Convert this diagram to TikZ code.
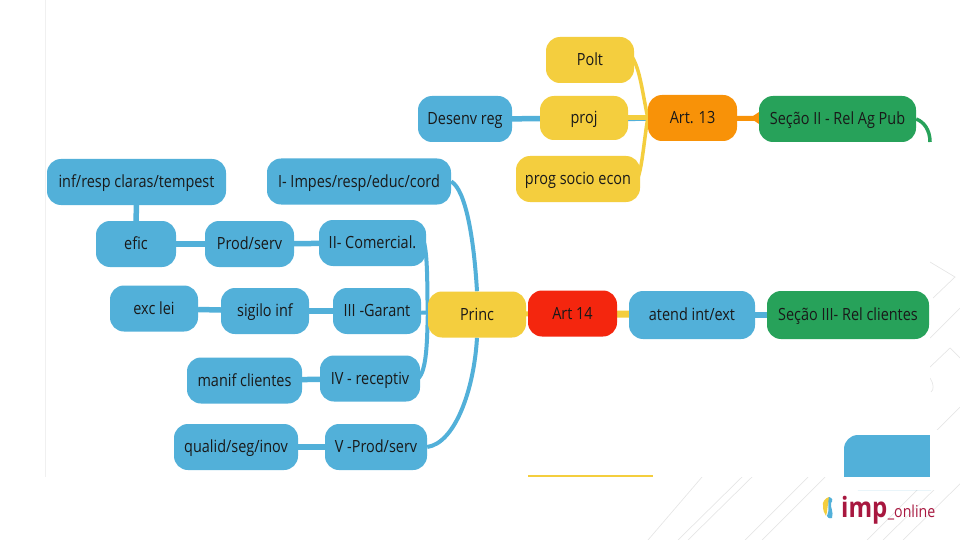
\documentclass[tikz,border=0pt]{standalone}
\usepackage{fontspec}
\setmainfont[FakeStretch=0.86]{Open Sans}
\usetikzlibrary{backgrounds}
\definecolor{mapblue}{HTML}{52B0D9}
\definecolor{mapyellow}{HTML}{F4CE3E}
\definecolor{maporange}{HTML}{F89208}
\definecolor{mapgreen}{HTML}{27A25A}
\definecolor{mapred}{HTML}{F4260E}
\definecolor{logored}{HTML}{A8173F}
\definecolor{decor}{HTML}{E6E6E6}
\tikzset{
  topic/.style={rounded corners=14pt,inner sep=0pt,minimum height=46pt,text=black!90,
    text height=13pt,text depth=2pt,font=\fontsize{16.8}{18}\selectfont},
  blue topic/.style={topic,fill=mapblue},
  yellow topic/.style={topic,fill=mapyellow},
  link/.style={line width=5.5pt,mapblue},
  thin link/.style={line width=4pt,mapblue},
  decor line/.style={decor,line width=0.7pt},
}
\begin{document}
\begin{tikzpicture}[x=1pt,y=-1pt]
  \useasboundingbox (0,0) rectangle (960,540);

  % section II
  \node [yellow topic,minimum width=88pt] (polt) at (590,60) {Polt};
  \node [yellow topic,minimum width=88pt,minimum height=44pt] (proj) at (584,118) {proj};
  \node [yellow topic,minimum width=124pt] (prog) at (578,179) {prog socio econ};
  \node [blue topic,minimum width=94pt] (desenv) at (465,119) {Desenv reg};
  \node [topic,fill=maporange,minimum width=89pt] (art13) at (692.5,118) {Art. 13};
  \node [topic,fill=mapgreen,minimum width=157pt] (sec2) at (837.5,119) {Seção II - Rel Ag Pub};
  \coordinate (sec2 end) at (930,142);

  % left branches
  \node [blue topic,minimum width=179pt] (claras) at (136.5,182) {inf/resp claras/tempest};
  \node [blue topic,minimum width=184pt] (impes) at (359,181.5) {I- Impes/resp/educ/cord};
  \node [blue topic,minimum width=80pt] (efic) at (136,244) {efic};
  \node [blue topic,minimum width=89pt] (prod) at (249.5,244) {Prod/serv};
  \node [blue topic,minimum width=107pt] (comerc) at (372.5,243) {II- Comercial.};
  \node [blue topic,minimum width=88pt] (exc) at (154,308.5) {exc lei};
  \node [blue topic,minimum width=88pt] (sigilo) at (265,311) {sigilo inf};
  \node [blue topic,minimum width=88pt] (garant) at (377,311) {III -Garant};
  \node [blue topic,minimum width=115pt] (manif) at (244.5,380.5) {manif clientes};
  \node [blue topic,minimum width=100pt] (recept) at (370,378.5) {IV - receptiv};
  \node [blue topic,minimum width=124pt] (qualid) at (236,447) {qualid/seg/inov};
  \node [blue topic,minimum width=102pt] (prodv) at (376,447) {V -Prod/serv};

  % section III
  \node [yellow topic,minimum width=98pt] (princ) at (477,314.5) {Princ};
  \node [topic,fill=mapred,minimum width=89pt] (art14) at (572.5,313.5) {Art 14};
  \node [blue topic,minimum width=126pt,minimum height=48pt] (atend) at (692,315) {atend int/ext};
  \node [topic,fill=mapgreen,minimum width=162pt,minimum height=48pt] (sec3) at (848,315) {Seção III- Rel clientes};

  % cut off at the lower edge of the map
  \fill [mapblue,rounded corners=14pt] (844,490) -- (844,435) -- (945,435) -- (945,490) -- cycle;
  \fill [white] (840,477) rectangle (950,490);
  \fill [white] (930,430) rectangle (950,477);
  \fill [mapyellow] (528,475) rectangle (653,477);

  \begin{scope}[on background layer]
    % slide decoration, the map image lies over it
    \foreach \a/\b in {702/648,742/678,752/688,808/745,825/762,930/867,947/883,967/903}{
      \draw [decor line] (\a,477) -- (\b,540);
    }
    \draw [decor line] (960,407) -- (930,437);
    \draw [decor line] (960,308) -- (930,338);
    \draw [decor line] (930,262) -- (955,277) -- (933,298);
    \draw [decor line] (930,367) -- (950,348) -- (960,358);
    \draw [decor line] (930,378) .. controls (934,384) and (934,390) .. (931,392);
    \fill [white] (45,0) rectangle (930,477);
    \draw [decor!60,line width=0.7pt] (45,0) -- (45,477);

    \draw [link] (desenv) -- (art13);
    \draw [line width=5pt,mapyellow] (proj) -- (art13);
    \draw [line width=3.5pt,mapyellow] (polt.east) ++(-2,-3) .. controls (640,70) and (642,90) .. (art13.west);
    \draw [line width=3.5pt,mapyellow] (prog.east) ++(-3,0) .. controls (642,170) and (644,140) .. (art13.west);
    \draw [line width=5pt,maporange] (art13) -- (sec2);
    \fill [maporange] (750,118) -- (762,110) -- (762,126) -- cycle;
    \draw [line width=3.5pt,mapgreen] (sec2.east) .. controls (924,122) and (930,130) .. (sec2 end);
    \draw [link] (claras) -- (efic);
    \draw [link] (efic) -- (prod);
    \draw [link] (prod) -- (comerc);
    \draw [link] (exc) -- (sigilo);
    \draw [link] (sigilo) -- (garant);
    \draw [link] (manif) -- (recept);
    \draw [link] (qualid) -- (prodv);
    \draw [thin link] (impes.east) .. controls (466,190) and (474,240) .. (princ.north);
    \draw [thin link] (prodv.east) .. controls (455,443) and (474,390) .. (princ.south);
    \draw [thin link] (comerc.east) ++(-2,0) .. controls (428,260) and (427,290) .. (princ.west);
    \draw [thin link] (recept.east) ++(-2,0) .. controls (427,370) and (427,340) .. (princ.west);
    \draw [thin link] (garant) -- (princ);
    \draw [line width=5pt,mapyellow] (princ) -- (art14);
    \draw [line width=7pt,mapyellow] (art14) -- (atend);
    \draw [link] (atend) -- (sec3);
  \end{scope}

  % logo
  \fill [mapyellow] (823,506) .. controls (822,502) and (825,498) .. (829,497) -- (829,501) .. controls (827,505) and (828,510) .. (826,516) .. controls (824,513) and (823,510) .. (823,506) -- cycle;
  \fill [mapblue] (829,497) .. controls (833,498) and (833,501) .. (831,503) .. controls (830,507) and (834,512) .. (832,518) .. controls (829,519) and (827,517) .. (827,516) .. controls (830,510) and (827,503) .. (829,497) -- cycle;
  \node [anchor=base west,inner sep=0pt,text=logored,font=\fontsize{28}{30}\selectfont\bfseries] (logo) at (841,517) {imp};
  \node [anchor=base west,inner sep=0pt,text=logored,font=\fontsize{16.5}{18}\selectfont] (online) at (logo.base east) {\_online};
\end{tikzpicture}
\end{document}
